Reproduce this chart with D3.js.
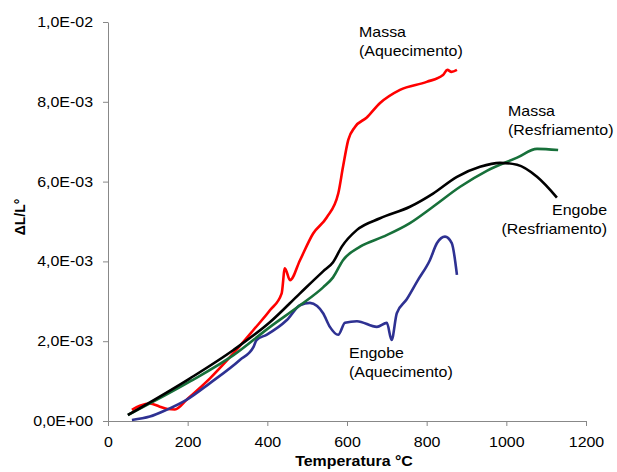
<!DOCTYPE html>
<html>
<head>
<meta charset="utf-8">
<script src="https://cdn.jsdelivr.net/npm/d3@7"></script>
<style>
  body { margin: 0; background: #fff; }
  svg { font-family: "Liberation Sans", Arial, sans-serif; }
</style>
</head>
<body>
<div id="chart"></div>
<script>
// values: [temperature °C, ΔL/L°]
const massaAquecimento = [
  [60, 2.8e-4], [80, 3.8e-4], [105, 4.4e-4], [130, 3.6e-4], [150, 3.0e-4], [168, 2.9e-4],
  [200, 5.6e-4], [256, 1.07e-3], [315, 1.7e-3], [365, 2.28e-3], [407, 2.78e-3],
  [436, 3.2e-3], [444, 3.83e-3], [457, 3.53e-3], [482, 4.03e-3], [515, 4.7e-3],
  [549, 5.1e-3], [578, 5.7e-3], [590, 6.37e-3], [603, 7.04e-3], [620, 7.37e-3],
  [649, 7.6e-3], [683, 7.97e-3], [733, 8.3e-3], [800, 8.5e-3], [841, 8.67e-3],
  [852, 8.8e-3], [862, 8.75e-3], [876, 8.8e-3]
];
const engobeResfriamento = [
  [50, 1.5e-4], [206, 1.07e-3], [315, 1.78e-3], [407, 2.48e-3], [482, 3.2e-3],
  [540, 3.75e-3], [565, 3.98e-3], [587, 4.37e-3], [625, 4.79e-3], [683, 5.08e-3],
  [758, 5.37e-3], [816, 5.7e-3], [876, 6.12e-3], [934, 6.37e-3], [984, 6.47e-3],
  [1027, 6.42e-3], [1077, 6.12e-3], [1127, 5.6e-3]
];
const massaResfriamento = [
  [50, 1.5e-4], [206, 9.9e-4], [315, 1.65e-3], [407, 2.36e-3], [482, 2.9e-3],
  [540, 3.35e-3], [565, 3.6e-3], [590, 4.03e-3], [633, 4.37e-3], [691, 4.62e-3],
  [758, 4.96e-3], [816, 5.37e-3], [884, 5.87e-3], [951, 6.27e-3], [1027, 6.6e-3],
  [1077, 6.82e-3], [1130, 6.79e-3]
];
const engobeAquecimento = [
  [60, 2.5e-5], [105, 1.1e-4], [147, 2.8e-4], [197, 5.3e-4], [256, 9.5e-4],
  [331, 1.53e-3], [365, 1.85e-3], [373, 2.03e-3], [398, 2.16e-3], [449, 2.53e-3],
  [482, 2.9e-3], [507, 2.96e-3], [525, 2.88e-3], [540, 2.7e-3], [557, 2.36e-3],
  [578, 2.16e-3], [595, 2.46e-3], [625, 2.5e-3], [675, 2.36e-3], [700, 2.46e-3],
  [712, 2.03e-3], [725, 2.7e-3], [750, 3.05e-3], [778, 3.53e-3], [808, 4.03e-3],
  [826, 4.46e-3], [846, 4.62e-3], [863, 4.46e-3], [876, 3.66e-3]
];

const xTicks = [0, 200, 400, 600, 800, 1000, 1200];
const yTicks = [0, 0.002, 0.004, 0.006, 0.008, 0.01];

const series = [
  {name: "massaAquecimento", data: massaAquecimento, color: "#ff0000"},
  {name: "engobeAquecimento", data: engobeAquecimento, color: "#2e3192"},
  {name: "massaResfriamento", data: massaResfriamento, color: "#17703a"},
  {name: "engobeResfriamento", data: engobeResfriamento, color: "#000000"}
];

const labels = [
  {lines: ["Massa", "(Aquecimento)"], x: 359, y: 37, anchor: "start"},
  {lines: ["Massa", "(Resfriamento)"], x: 508, y: 116, anchor: "start"},
  {lines: ["Engobe", "(Resfriamento)"], x: 607, y: 215, anchor: "end"},
  {lines: ["Engobe", "(Aquecimento)"], x: 349, y: 358, anchor: "start"}
];

const width = 617, height = 472;
const sx = 1.14; // the original picture is stretched sideways
const fs = "14px";

const svg = d3.select("#chart").append("svg")
  .attr("width", width)
  .attr("height", height);

const x = d3.scaleLinear().domain([0, 1200]).range([108, 586]);
const y = d3.scaleLinear().domain([0, 0.01]).range([421, 22]);

// tick format like 2,0E-03
const sci = v => {
  if (v === 0) return "0,0E+00";
  const e = Math.floor(Math.log10(v) + 1e-9);
  const m = v / Math.pow(10, e);
  const es = (e < 0 ? "-" : "+") + String(Math.abs(e)).padStart(2, "0");
  return m.toFixed(1).replace(".", ",") + "E" + es;
};

const xAxis = svg.append("g")
  .attr("transform", `translate(0,${y(0)})`)
  .call(d3.axisBottom(x).tickValues(xTicks).tickFormat(d3.format("d"))
    .tickSize(5).tickSizeOuter(0).tickPadding(11));

const yAxis = svg.append("g")
  .attr("transform", `translate(${x(0)},0)`)
  .call(d3.axisLeft(y).tickValues(yTicks).tickFormat(sci).tickSize(5).tickSizeOuter(0));

[xAxis, yAxis].forEach(a => {
  a.select(".domain").attr("stroke", "#888");
  a.selectAll(".tick line").attr("stroke", "#888");
  a.selectAll(".tick text").attr("fill", "#000").style("font-size", fs)
    .attr("transform", `scale(${sx},1)`);
});
yAxis.selectAll(".tick text").attr("x", -15 / sx);

svg.append("text")
  .attr("transform", `translate(354,466) scale(${sx},1)`)
  .attr("text-anchor", "middle")
  .style("font-size", fs).style("font-weight", "bold")
  .text("Temperatura °C");

svg.append("text")
  .attr("transform", "translate(25,217) rotate(-90)")
  .attr("text-anchor", "middle")
  .style("font-size", fs).style("font-weight", "bold")
  .text("ΔL/L°");

const line = d3.line()
  .x(d => x(d[0]))
  .y(d => y(d[1]))
  .curve(d3.curveMonotoneX);

svg.append("g")
  .selectAll("path")
  .data(series)
  .join("path")
  .attr("fill", "none")
  .attr("stroke", d => d.color)
  .attr("stroke-width", 2.6)
  .attr("stroke-linejoin", "round")
  .attr("d", d => line(d.data));

const lab = svg.append("g")
  .selectAll("text")
  .data(labels)
  .join("text")
  .attr("transform", d => `translate(${d.x},${d.y}) scale(${sx},1)`)
  .attr("text-anchor", d => d.anchor)
  .style("font-size", fs)
  .attr("fill", "#000");

lab.selectAll("tspan")
  .data(d => d.lines.map((t, i) => ({t, i})))
  .join("tspan")
  .attr("x", 0)
  .attr("y", d => d.i * 19)
  .text(d => d.t);
</script>
</body>
</html>
